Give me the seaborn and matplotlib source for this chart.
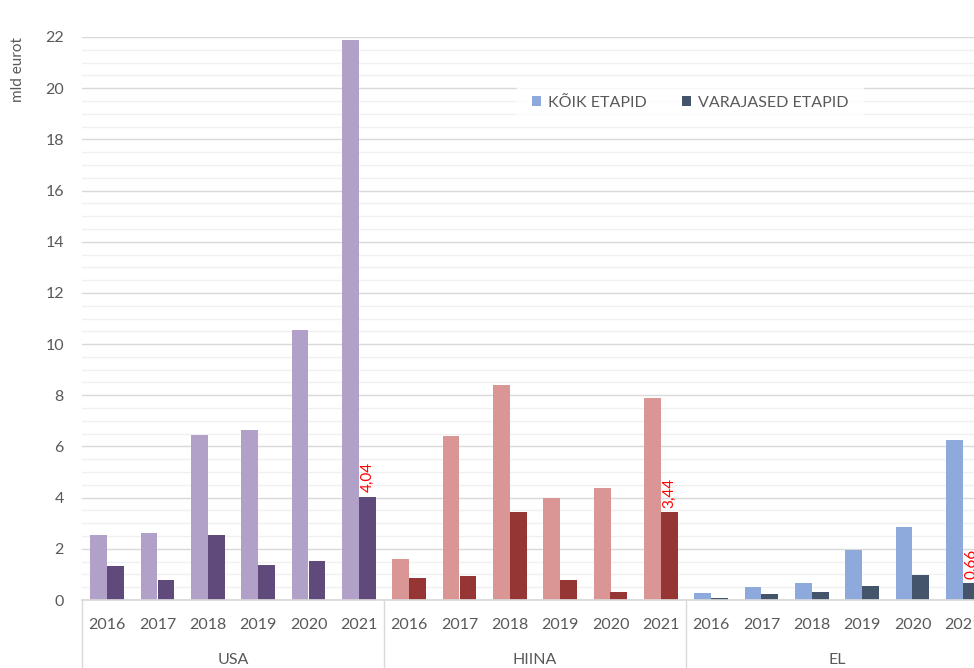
import pandas as pd
import matplotlib.pyplot as plt
import seaborn as sns
from matplotlib.patches import Patch
from matplotlib.ticker import MultipleLocator
import matplotlib.transforms as mtransforms

# Data (mld eurot)
groups = ["USA", "HIINA", "EL"]
years = ["2016", "2017", "2018", "2019", "2020", "2021"]
series = ["KÕIK ETAPID", "VARAJASED ETAPID"]

usa_all = [2.55, 2.62, 6.45, 6.65, 10.55, 21.9]
usa_early = [1.31, 0.77, 2.53, 1.35, 1.52, 4.04]
hiina_all = [1.6, 6.4, 8.4, 3.98, 4.37, 7.88]
hiina_early = [0.85, 0.92, 3.44, 0.77, 0.3, 3.44]
el_all = [0.26, 0.49, 0.66, 1.94, 2.84, 6.25]
el_early = [0.07, 0.22, 0.3, 0.53, 0.96, 0.66]

highlight_labels = {"USA": "4,04", "HIINA": "3,44", "EL": "0,66"}

# colours per group: (light, dark)
group_colors = {
    "USA": ("#B1A0C7", "#604A7B"),
    "HIINA": ("#DA9694", "#963634"),
    "EL": ("#8EA9DB", "#44546A"),
}

values = {
    ("USA", series[0]): usa_all, ("USA", series[1]): usa_early,
    ("HIINA", series[0]): hiina_all, ("HIINA", series[1]): hiina_early,
    ("EL", series[0]): el_all, ("EL", series[1]): el_early,
}

rows = []
for g in groups:
    for s in series:
        for y, v in zip(years, values[(g, s)]):
            rows.append({"cat": f"{g} {y}", "group": g, "year": y, "series": s, "value": v})
df = pd.DataFrame(rows)
order = [f"{g} {y}" for g in groups for y in years]

sns.set_theme(style="white")
plt.rcParams["font.family"] = ["Lato", "DejaVu Sans"]
text_color = "#595959"
grid_major = "#D9D9D9"
grid_minor = "#F0F0F0"

fig = plt.figure(figsize=(9.74, 6.68), dpi=100)
ax = fig.add_axes([82 / 974, 68 / 668, 906 / 974, 563 / 668])

sns.barplot(data=df, x="cat", y="value", hue="series", order=order,
            hue_order=series, width=0.675, dodge=True, legend=False,
            saturation=1, ax=ax, errorbar=None)

# recolour bars per group
for si, cont in enumerate(ax.containers):
    for j, bar in enumerate(cont):
        g = groups[j // len(years)]
        bar.set_facecolor(group_colors[g][si])
        bar.set_edgecolor("none")

# red labels on the last early-stage bar of each group
labels = []
for g in groups:
    labels += [""] * (len(years) - 1) + [highlight_labels[g]]
ax.bar_label(ax.containers[1], labels=labels, rotation=90, color="#FF0000",
             fontsize=11, padding=3)

ax.set_xlim(-0.5, len(order) - 0.5)
ax.set_ylim(0, 22)
ax.yaxis.set_major_locator(MultipleLocator(2))
ax.yaxis.set_minor_locator(MultipleLocator(0.5))
ax.grid(axis="y", which="major", color=grid_major, linewidth=1)
ax.grid(axis="y", which="minor", color=grid_minor, linewidth=1)
ax.set_axisbelow(True)
ax.tick_params(axis="y", which="both", length=0, pad=13, labelsize=11.5, labelcolor=text_color)
ax.set_xticks([])
ax.set_xlabel("")
ax.set_ylabel("")
for side in ["left", "right", "top"]:
    ax.spines[side].set_visible(False)
ax.spines["bottom"].set_color(grid_major)

# two-level category axis
trans = mtransforms.blended_transform_factory(ax.transData, ax.transAxes)
for i, cat in enumerate(order):
    ax.text(i, -25 / 563, cat.split()[1], transform=trans, ha="center", va="center",
            fontsize=11.5, color=text_color)
for gi, g in enumerate(groups):
    center = gi * len(years) + (len(years) - 1) / 2
    ax.text(center, -60 / 563, g, transform=trans, ha="center", va="center",
            fontsize=11.5, color=text_color)
for gi in range(len(groups) + 1):
    x = gi * len(years) - 0.5
    ax.plot([x, x], [0, -70 / 563], transform=trans, color=grid_major,
            linewidth=1, clip_on=False)

fig.text(18 / 974, 1 - 70 / 668, "mld eurot", rotation=90, ha="center", va="center",
         fontsize=11, color=text_color)

handles = [Patch(facecolor=group_colors["EL"][i], edgecolor="none", label=s)
           for i, s in enumerate(series)]
leg = fig.legend(handles=handles, loc="center", bbox_to_anchor=(690 / 974, 1 - 103 / 668),
                 ncol=2, frameon=True, fontsize=11.5, handlelength=0.6, handleheight=0.6,
                 handletextpad=0.4, columnspacing=2.2, borderpad=0.9, fancybox=False)
leg.get_frame().set_facecolor("white")
leg.get_frame().set_edgecolor("white")
for t in leg.get_texts():
    t.set_color(text_color)

fig.savefig("out.png", dpi=100)
